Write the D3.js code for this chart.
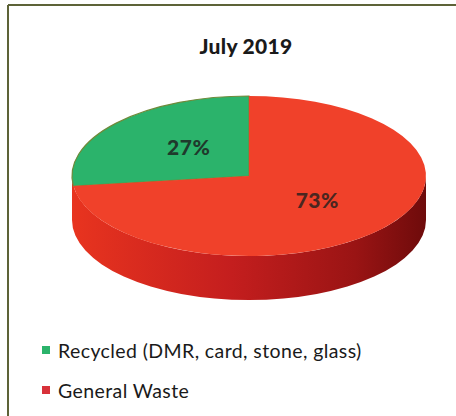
<!DOCTYPE html>
<html>
<head>
<meta charset="utf-8">
<script src="https://cdn.jsdelivr.net/npm/d3@7"></script>
<style>
  html, body { margin: 0; padding: 0; background: #fff; }
  svg { display: block; font-family: Lato, "Open Sans", sans-serif; }
</style>
</head>
<body>
<script>
// chart data
var categories = ['Recycled (DMR, card, stone, glass)', 'General Waste'];
var values = [27, 73];
var labels = ['27%', '73%'];
var colors = ['#2bb36b', '#f0412a'];
var title = 'July 2019';

(function() {
  var width = 456, height = 416;

  var svg = d3.select('body').append('svg')
    .attr('width', width)
    .attr('height', height);

  // frame (top and left edges visible in the crop)
  svg.append('line')
    .attr('x1', 8).attr('y1', 5).attr('x2', width).attr('y2', 5)
    .attr('stroke', '#5d6338').attr('stroke-width', 2);
  svg.append('line')
    .attr('x1', 8).attr('y1', 5).attr('x2', 8).attr('y2', height)
    .attr('stroke', '#5d6338').attr('stroke-width', 2);

  // title
  svg.append('text')
    .attr('x', 246).attr('y', 54)
    .attr('text-anchor', 'middle')
    .style('font-size', '21px')
    .style('font-weight', '900')
    .style('letter-spacing', '0.3px')
    .style('fill', '#1a1a1a')
    .text(title);

  // pie geometry (tilted ellipse)
  var cx = 249, cy = 176, rx = 177, ry = 80, depth = 44;
  var k = ry / rx;

  var defs = svg.append('defs');
  var grad = defs.append('linearGradient')
    .attr('id', 'sideGrad')
    .attr('x1', '0%').attr('x2', '100%').attr('y1', '0%').attr('y2', '0%');
  grad.append('stop').attr('offset', '0%').attr('stop-color', '#e8341f');
  grad.append('stop').attr('offset', '45%').attr('stop-color', '#c41e1e');
  grad.append('stop').attr('offset', '80%').attr('stop-color', '#9a1414');
  grad.append('stop').attr('offset', '100%').attr('stop-color', '#6e0b0b');

  var g = svg.append('g')
    .attr('transform', 'translate(' + cx + ',' + cy + ') scale(1,' + k + ')');

  // side wall of the front half
  var D = depth / k;
  var side = d3.path();
  side.moveTo(-rx, 0);
  side.arc(0, 0, rx, Math.PI, 0, true);
  side.lineTo(rx, D);
  side.arc(0, D, rx, 0, Math.PI, false);
  side.closePath();
  g.append('path')
    .attr('d', side.toString())
    .attr('fill', 'url(#sideGrad)');

  // top face
  var pie = d3.pie().sort(null).startAngle(-values[0] / 100 * 2 * Math.PI).endAngle(2 * Math.PI - values[0] / 100 * 2 * Math.PI);
  var arcs = pie(values);
  var arcGen = d3.arc().innerRadius(0).outerRadius(rx);

  g.selectAll('path.slice')
    .data(arcs)
    .enter()
    .append('path')
      .attr('class', 'slice')
      .attr('d', arcGen)
      .attr('fill', function(d, i) { return colors[i]; })
      .attr('stroke', function(d, i) { return i == 0 ? '#6f8a3a' : 'none'; })
      .attr('stroke-width', 1.2)
      .attr('vector-effect', 'non-scaling-stroke');

  // slice labels
  var labelArc = d3.arc().innerRadius(rx * 0.62).outerRadius(rx * 0.62);
  var labelOffsets = [[22, 4], [-14, -8]];
  svg.selectAll('text.lbl')
    .data(arcs)
    .enter()
    .append('text')
      .attr('class', 'lbl')
      .attr('x', function(d, i) { return cx + labelArc.centroid(d)[0] + labelOffsets[i][0]; })
      .attr('y', function(d, i) { return cy + labelArc.centroid(d)[1] * k + labelOffsets[i][1]; })
      .attr('text-anchor', 'middle')
      .attr('dy', '0.35em')
      .style('font-size', '21px')
      .style('font-weight', '900')
      .style('letter-spacing', '0.5px')
      .style('fill', function(d, i) { return i == 0 ? '#1f3a2c' : '#4a2620'; })
      .text(function(d, i) { return labels[i]; });

  // legend
  var legend = svg.selectAll('g.legend')
    .data(categories)
    .enter()
    .append('g')
      .attr('class', 'legend')
      .attr('transform', function(d, i) { return 'translate(42,' + (358 + i * 40) + ')'; });
  legend.append('rect')
    .attr('x', 0).attr('y', -12)
    .attr('width', 8).attr('height', 8)
    .attr('fill', function(d, i) { return i == 0 ? colors[0] : '#d8323a'; });
  legend.append('text')
    .attr('x', 16).attr('y', 0)
    .style('font-size', '19.5px')
    .style('letter-spacing', '0.4px')
    .style('fill', '#1a1a1a')
    .text(function(d) { return d; });
})();
</script>
</body>
</html>
